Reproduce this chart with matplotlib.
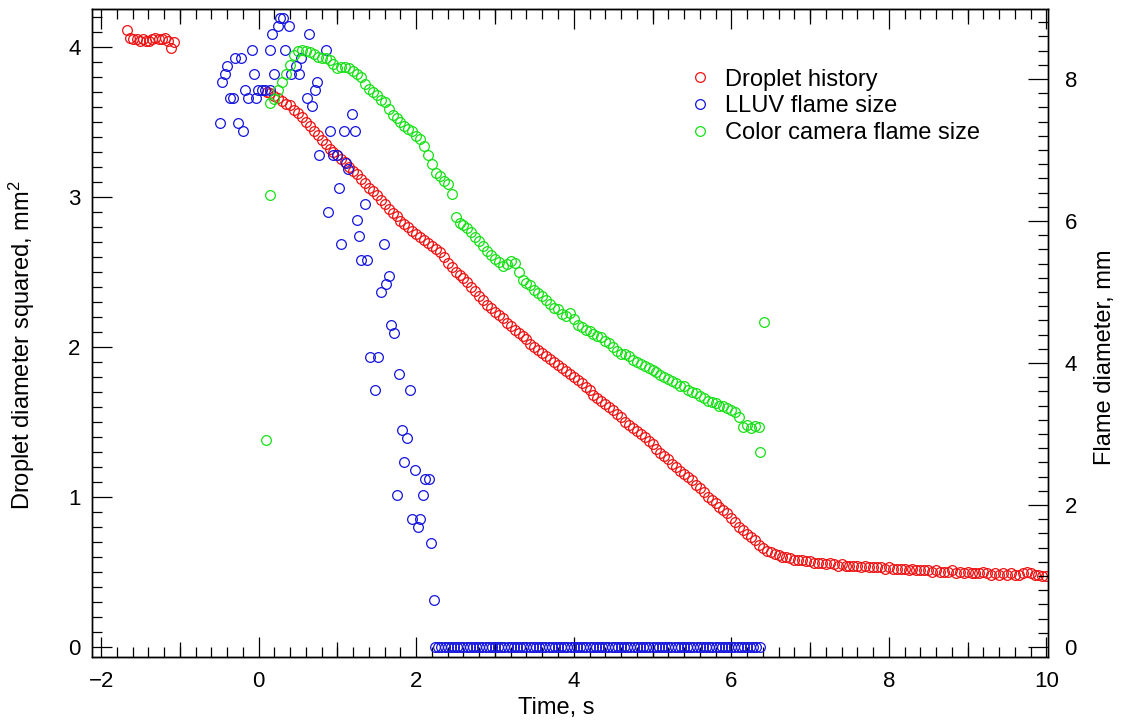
import numpy as np
import matplotlib.pyplot as plt
from matplotlib.ticker import MultipleLocator

plt.rcParams['font.family'] = ['Liberation Sans', 'DejaVu Sans']
plt.rcParams['mathtext.default'] = 'regular'

# droplet diameter squared, mm^2 (left axis)
drop_t_early = [-1.67, -1.63, -1.59, -1.55, -1.51, -1.47, -1.43, -1.39,
                -1.35, -1.31, -1.27, -1.23, -1.19, -1.15, -1.11, -1.08]
drop_d2_early = [4.11, 4.06, 4.05, 4.05, 4.04, 4.05, 4.04, 4.04,
                 4.05, 4.06, 4.05, 4.05, 4.06, 4.04, 3.99, 4.03]

drop_t = [0.10, 0.15, 0.20, 0.25, 0.30, 0.35, 0.40, 0.45, 0.50, 0.55,
          0.60, 0.65, 0.70, 0.75, 0.80, 0.85, 0.90, 0.95, 1.00, 1.05,
          1.10, 1.15, 1.20, 1.25, 1.30, 1.35, 1.40, 1.45, 1.50, 1.55,
          1.60, 1.65, 1.70, 1.75, 1.80, 1.85, 1.90, 1.95, 2.00, 2.05,
          2.10, 2.15, 2.20, 2.25, 2.30, 2.35, 2.40, 2.45, 2.50, 2.55,
          2.60, 2.65, 2.70, 2.75, 2.80, 2.85, 2.90, 2.95, 3.00, 3.05,
          3.10, 3.15, 3.20, 3.25, 3.30, 3.35, 3.40, 3.45, 3.50, 3.55,
          3.60, 3.65, 3.70, 3.75, 3.80, 3.85, 3.90, 3.95, 4.00, 4.05,
          4.10, 4.15, 4.20, 4.25, 4.30, 4.35, 4.40, 4.45, 4.50, 4.55,
          4.60, 4.65, 4.70, 4.75, 4.80, 4.85, 4.90, 4.95, 5.00, 5.05,
          5.10, 5.15, 5.20, 5.25, 5.30, 5.35, 5.40, 5.45, 5.50, 5.55,
          5.60, 5.65, 5.70, 5.75, 5.80, 5.85, 5.90, 5.95, 6.00, 6.05,
          6.10, 6.15, 6.20, 6.25, 6.30, 6.35, 6.40, 6.45, 6.50, 6.55,
          6.60, 6.65, 6.70, 6.75, 6.80, 6.85, 6.90, 6.95, 7.00, 7.05,
          7.10, 7.15, 7.20, 7.25, 7.30, 7.35, 7.40, 7.45, 7.50, 7.55,
          7.60, 7.65, 7.70, 7.75, 7.80, 7.85, 7.90, 7.95, 8.00, 8.05,
          8.10, 8.15, 8.20, 8.25, 8.30, 8.35, 8.40, 8.45, 8.50, 8.55,
          8.60, 8.65, 8.70, 8.75, 8.80, 8.85, 8.90, 8.95, 9.00, 9.05,
          9.10, 9.15, 9.20, 9.25, 9.30, 9.35, 9.40, 9.45, 9.50, 9.55,
          9.60, 9.65, 9.70, 9.75, 9.80, 9.85, 9.90, 9.95, 10.00]
drop_d2 = [3.70, 3.69, 3.67, 3.66, 3.64, 3.62, 3.61, 3.58, 3.56, 3.53,
           3.50, 3.47, 3.44, 3.41, 3.38, 3.35, 3.32, 3.30, 3.28, 3.25,
           3.23, 3.20, 3.17, 3.15, 3.12, 3.09, 3.06, 3.04, 3.01, 2.98,
           2.95, 2.92, 2.89, 2.87, 2.84, 2.82, 2.80, 2.77, 2.75, 2.73,
           2.71, 2.69, 2.67, 2.65, 2.63, 2.60, 2.56, 2.53, 2.50, 2.48,
           2.46, 2.43, 2.40, 2.37, 2.34, 2.31, 2.28, 2.26, 2.23, 2.21,
           2.19, 2.16, 2.14, 2.11, 2.09, 2.07, 2.05, 2.02, 2.00, 1.98,
           1.96, 1.94, 1.92, 1.90, 1.88, 1.86, 1.84, 1.82, 1.80, 1.78,
           1.76, 1.73, 1.71, 1.68, 1.66, 1.64, 1.62, 1.60, 1.58, 1.55,
           1.53, 1.50, 1.48, 1.46, 1.44, 1.42, 1.40, 1.37, 1.35, 1.32,
           1.29, 1.27, 1.25, 1.22, 1.20, 1.17, 1.15, 1.13, 1.11, 1.08,
           1.06, 1.03, 1.00, 0.98, 0.96, 0.93, 0.91, 0.89, 0.86, 0.83,
           0.80, 0.78, 0.75, 0.73, 0.71, 0.68, 0.66, 0.64, 0.63, 0.62,
           0.61, 0.60, 0.60, 0.59, 0.58, 0.58, 0.58, 0.57, 0.57, 0.56,
           0.56, 0.56, 0.55, 0.56, 0.55, 0.54, 0.55, 0.54, 0.54, 0.54,
           0.54, 0.53, 0.54, 0.53, 0.53, 0.53, 0.53, 0.52, 0.53, 0.52,
           0.52, 0.52, 0.52, 0.51, 0.52, 0.51, 0.51, 0.51, 0.51, 0.50,
           0.51, 0.50, 0.50, 0.50, 0.51, 0.49, 0.50, 0.49, 0.50, 0.49,
           0.49, 0.49, 0.50, 0.49, 0.48, 0.49, 0.48, 0.49, 0.48, 0.49,
           0.48, 0.48, 0.49, 0.50, 0.49, 0.48, 0.48, 0.47, 0.47]

# LLUV flame diameter, mm (right axis)
lluv_t = [-0.49, -0.47, -0.43, -0.40, -0.37, -0.32, -0.30, -0.26, -0.23, -0.20,
          -0.17, -0.13, -0.09, -0.06, -0.03, -0.01, 0.04, 0.08, 0.14, 0.14,
          0.17, 0.20, 0.24, 0.27, 0.31, 0.34, 0.38, 0.41, 0.48, 0.51,
          0.54, 0.61, 0.64, 0.68, 0.71, 0.74, 0.77, 0.85, 0.88, 0.91,
          0.95, 0.99, 1.02, 1.04, 1.08, 1.11, 1.14, 1.19, 1.22, 1.25,
          1.28, 1.30, 1.35, 1.38, 1.41, 1.48, 1.52, 1.55, 1.59, 1.62,
          1.65, 1.68, 1.72, 1.75, 1.78, 1.82, 1.85, 1.88, 1.92, 1.95,
          1.99, 2.02, 2.05, 2.09, 2.11, 2.16, 2.19, 2.22]
lluv_d = [7.38, 7.95, 8.07, 8.18, 7.73, 7.73, 8.30, 7.38, 8.30, 7.27,
          7.85, 7.73, 8.41, 8.07, 7.73, 7.85, 7.85, 7.85, 7.85, 8.41,
          8.63, 8.07, 8.75, 8.86, 8.86, 8.41, 8.75, 8.07, 8.18, 8.07,
          8.30, 7.73, 8.63, 7.62, 7.84, 7.95, 6.93, 8.41, 6.13, 7.27,
          6.93, 6.93, 6.47, 5.68, 7.27, 6.82, 6.73, 7.50, 7.27, 6.02,
          5.79, 5.45, 6.24, 5.45, 4.08, 3.62, 4.08, 5.00, 5.68, 5.11,
          5.22, 4.54, 4.42, 2.14, 3.85, 3.06, 2.60, 2.94, 3.62, 1.80,
          2.49, 1.69, 1.80, 2.14, 2.37, 2.37, 1.46, 0.66]

# frames where no flame was detected
lluv_zero_t = [2.24, 2.28, 2.32, 2.36, 2.40, 2.44, 2.48, 2.52, 2.56, 2.60,
               2.64, 2.68, 2.72, 2.76, 2.80, 2.84, 2.88, 2.92, 2.96, 3.00,
               3.04, 3.08, 3.12, 3.16, 3.20, 3.24, 3.28, 3.32, 3.36, 3.40,
               3.44, 3.48, 3.52, 3.56, 3.60, 3.64, 3.68, 3.72, 3.76, 3.80,
               3.84, 3.88, 3.92, 3.96, 4.00, 4.04, 4.08, 4.12, 4.16, 4.20,
               4.24, 4.28, 4.32, 4.36, 4.40, 4.44, 4.48, 4.52, 4.56, 4.60,
               4.64, 4.68, 4.72, 4.76, 4.80, 4.84, 4.88, 4.92, 4.96, 5.00,
               5.04, 5.08, 5.12, 5.16, 5.20, 5.24, 5.28, 5.32, 5.36, 5.40,
               5.44, 5.48, 5.52, 5.56, 5.60, 5.64, 5.68, 5.72, 5.76, 5.80,
               5.84, 5.88, 5.92, 5.96, 6.00, 6.04, 6.08, 6.12, 6.16, 6.20,
               6.24, 6.28, 6.32, 6.36]
lluv_zero_d = [0.0] * len(lluv_zero_t)

# color camera flame diameter, mm (right axis)
color_t = [0.15, 0.20, 0.25, 0.30, 0.35, 0.40, 0.45, 0.50, 0.55, 0.60,
           0.65, 0.70, 0.75, 0.80, 0.85, 0.90, 0.95, 1.00, 1.05, 1.10,
           1.15, 1.20, 1.25, 1.30, 1.35, 1.40, 1.45, 1.50, 1.55, 1.60,
           1.65, 1.70, 1.75, 1.80, 1.85, 1.90, 1.95, 2.00, 2.05, 2.10,
           2.15, 2.20, 2.25, 2.30, 2.35, 2.40, 2.45, 2.50, 2.55, 2.60,
           2.65, 2.70, 2.75, 2.80, 2.85, 2.90, 2.95, 3.00, 3.05, 3.10,
           3.15, 3.20, 3.25, 3.30, 3.35, 3.40, 3.45, 3.50, 3.55, 3.60,
           3.65, 3.70, 3.75, 3.80, 3.85, 3.90, 3.95, 4.00, 4.05, 4.10,
           4.15, 4.20, 4.25, 4.30, 4.35, 4.40, 4.45, 4.50, 4.55, 4.60,
           4.65, 4.70, 4.75, 4.80, 4.85, 4.90, 4.95, 5.00, 5.05, 5.10,
           5.15, 5.20, 5.25, 5.30, 5.35, 5.40, 5.45, 5.50, 5.55, 5.60,
           5.65, 5.70, 5.75, 5.80, 5.85, 5.90, 5.95, 6.00, 6.05, 6.10,
           6.15, 6.20, 6.25, 6.30, 6.35]
color_d = [7.66, 7.72, 7.85, 7.95, 8.07, 8.20, 8.33, 8.40, 8.41, 8.40,
           8.38, 8.35, 8.31, 8.30, 8.29, 8.26, 8.21, 8.15, 8.17, 8.17,
           8.15, 8.11, 8.07, 8.02, 7.93, 7.86, 7.81, 7.78, 7.70, 7.68,
           7.58, 7.49, 7.45, 7.40, 7.34, 7.30, 7.26, 7.20, 7.15, 7.05,
           6.93, 6.80, 6.68, 6.63, 6.56, 6.52, 6.38, 6.06, 5.97, 5.94,
           5.90, 5.84, 5.78, 5.72, 5.64, 5.58, 5.52, 5.46, 5.42, 5.37,
           5.40, 5.44, 5.41, 5.28, 5.17, 5.12, 5.10, 5.03, 4.98, 4.94,
           4.88, 4.83, 4.78, 4.76, 4.69, 4.66, 4.70, 4.62, 4.54, 4.50,
           4.47, 4.45, 4.41, 4.38, 4.36, 4.31, 4.28, 4.23, 4.17, 4.13,
           4.13, 4.10, 4.04, 4.02, 3.99, 3.96, 3.93, 3.90, 3.87, 3.83,
           3.80, 3.77, 3.74, 3.72, 3.68, 3.67, 3.62, 3.59, 3.57, 3.53,
           3.50, 3.47, 3.45, 3.43, 3.40, 3.39, 3.37, 3.34, 3.31, 3.24,
           3.10, 3.12, 3.09, 3.11, 3.10]
color_out_t = [0.09, 0.14, 6.36, 6.41]
color_out_d = [2.92, 6.37, 2.75, 4.58]

mk = dict(linestyle='none', marker='o', markersize=7.0,
          markerfacecolor='none', markeredgewidth=0.9)

fig = plt.figure(figsize=(11.22, 7.23), dpi=100)
ax = fig.add_axes([0.0817, 0.0917, 0.8523, 0.8954])
ax2 = ax.twinx()

h1, = ax.plot(drop_t_early + drop_t, drop_d2_early + drop_d2,
              color='#ee1111', label='Droplet history', **mk)
h2, = ax2.plot(lluv_t + lluv_zero_t, lluv_d + lluv_zero_d,
               color='#1414dd', label='LLUV flame size', **mk)
h3, = ax2.plot(color_t + color_out_t, color_d + color_out_d,
               color='#16e016', label='Color camera flame size', **mk)

ax.set_xlim(-2.12, 10.02)
ax.set_ylim(-0.065, 4.25)
ax2.set_ylim(-0.137, 8.98)

ax.xaxis.set_major_locator(MultipleLocator(2))
ax.xaxis.set_minor_locator(MultipleLocator(0.2))
ax.yaxis.set_major_locator(MultipleLocator(1))
ax.yaxis.set_minor_locator(MultipleLocator(0.1))
ax2.yaxis.set_major_locator(MultipleLocator(2))
ax2.yaxis.set_minor_locator(MultipleLocator(0.2))

ax.tick_params(axis='x', which='both', direction='in', top=True,
               width=0.9, labelsize=16, pad=10)
ax.tick_params(axis='x', which='major', length=14.4)
ax.tick_params(axis='x', which='minor', length=7.2)
ax.tick_params(axis='y', which='both', direction='in', right=False,
               width=0.9, labelsize=16, pad=8)
ax.tick_params(axis='y', which='major', length=14.4)
ax.tick_params(axis='y', which='minor', length=7.2)
ax2.tick_params(axis='y', which='both', direction='in',
                width=0.9, labelsize=16, pad=12)
ax2.tick_params(axis='y', which='major', length=14.4)
ax2.tick_params(axis='y', which='minor', length=7.2)

# medium ticks at odd seconds, top and bottom
for side in ['bottom', 'top']:
    sec = ax.secondary_xaxis(side)
    sec.set_xticks([-1, 1, 3, 5, 7, 9])
    sec.tick_params(direction='in', length=10.8, width=0.9,
                    labelbottom=False, labeltop=False)

for a in [ax, ax2]:
    for s in a.spines.values():
        s.set_linewidth(1.0)

fig.text(556 / 1122, 1 - 708 / 723, 'Time, s', fontsize=17,
         ha='center', va='center')
fig.text(22 / 1122, 1 - 345 / 723, 'Droplet diameter squared, mm$^2$',
         fontsize=17, rotation=90, ha='center', va='center')
fig.text(1105 / 1122, 1 - 357 / 723, 'Flame diameter, mm', fontsize=17,
         rotation=90, ha='center', va='center')

ax2.legend(handles=[h1, h2, h3], loc='upper left',
           bbox_to_anchor=(0.613, 0.905), bbox_transform=fig.transFigure,
           frameon=False, borderpad=0, borderaxespad=0, handlelength=1.0,
           handletextpad=0.56, labelspacing=0.2, fontsize=17)

fig.savefig('out.png', dpi=100)
